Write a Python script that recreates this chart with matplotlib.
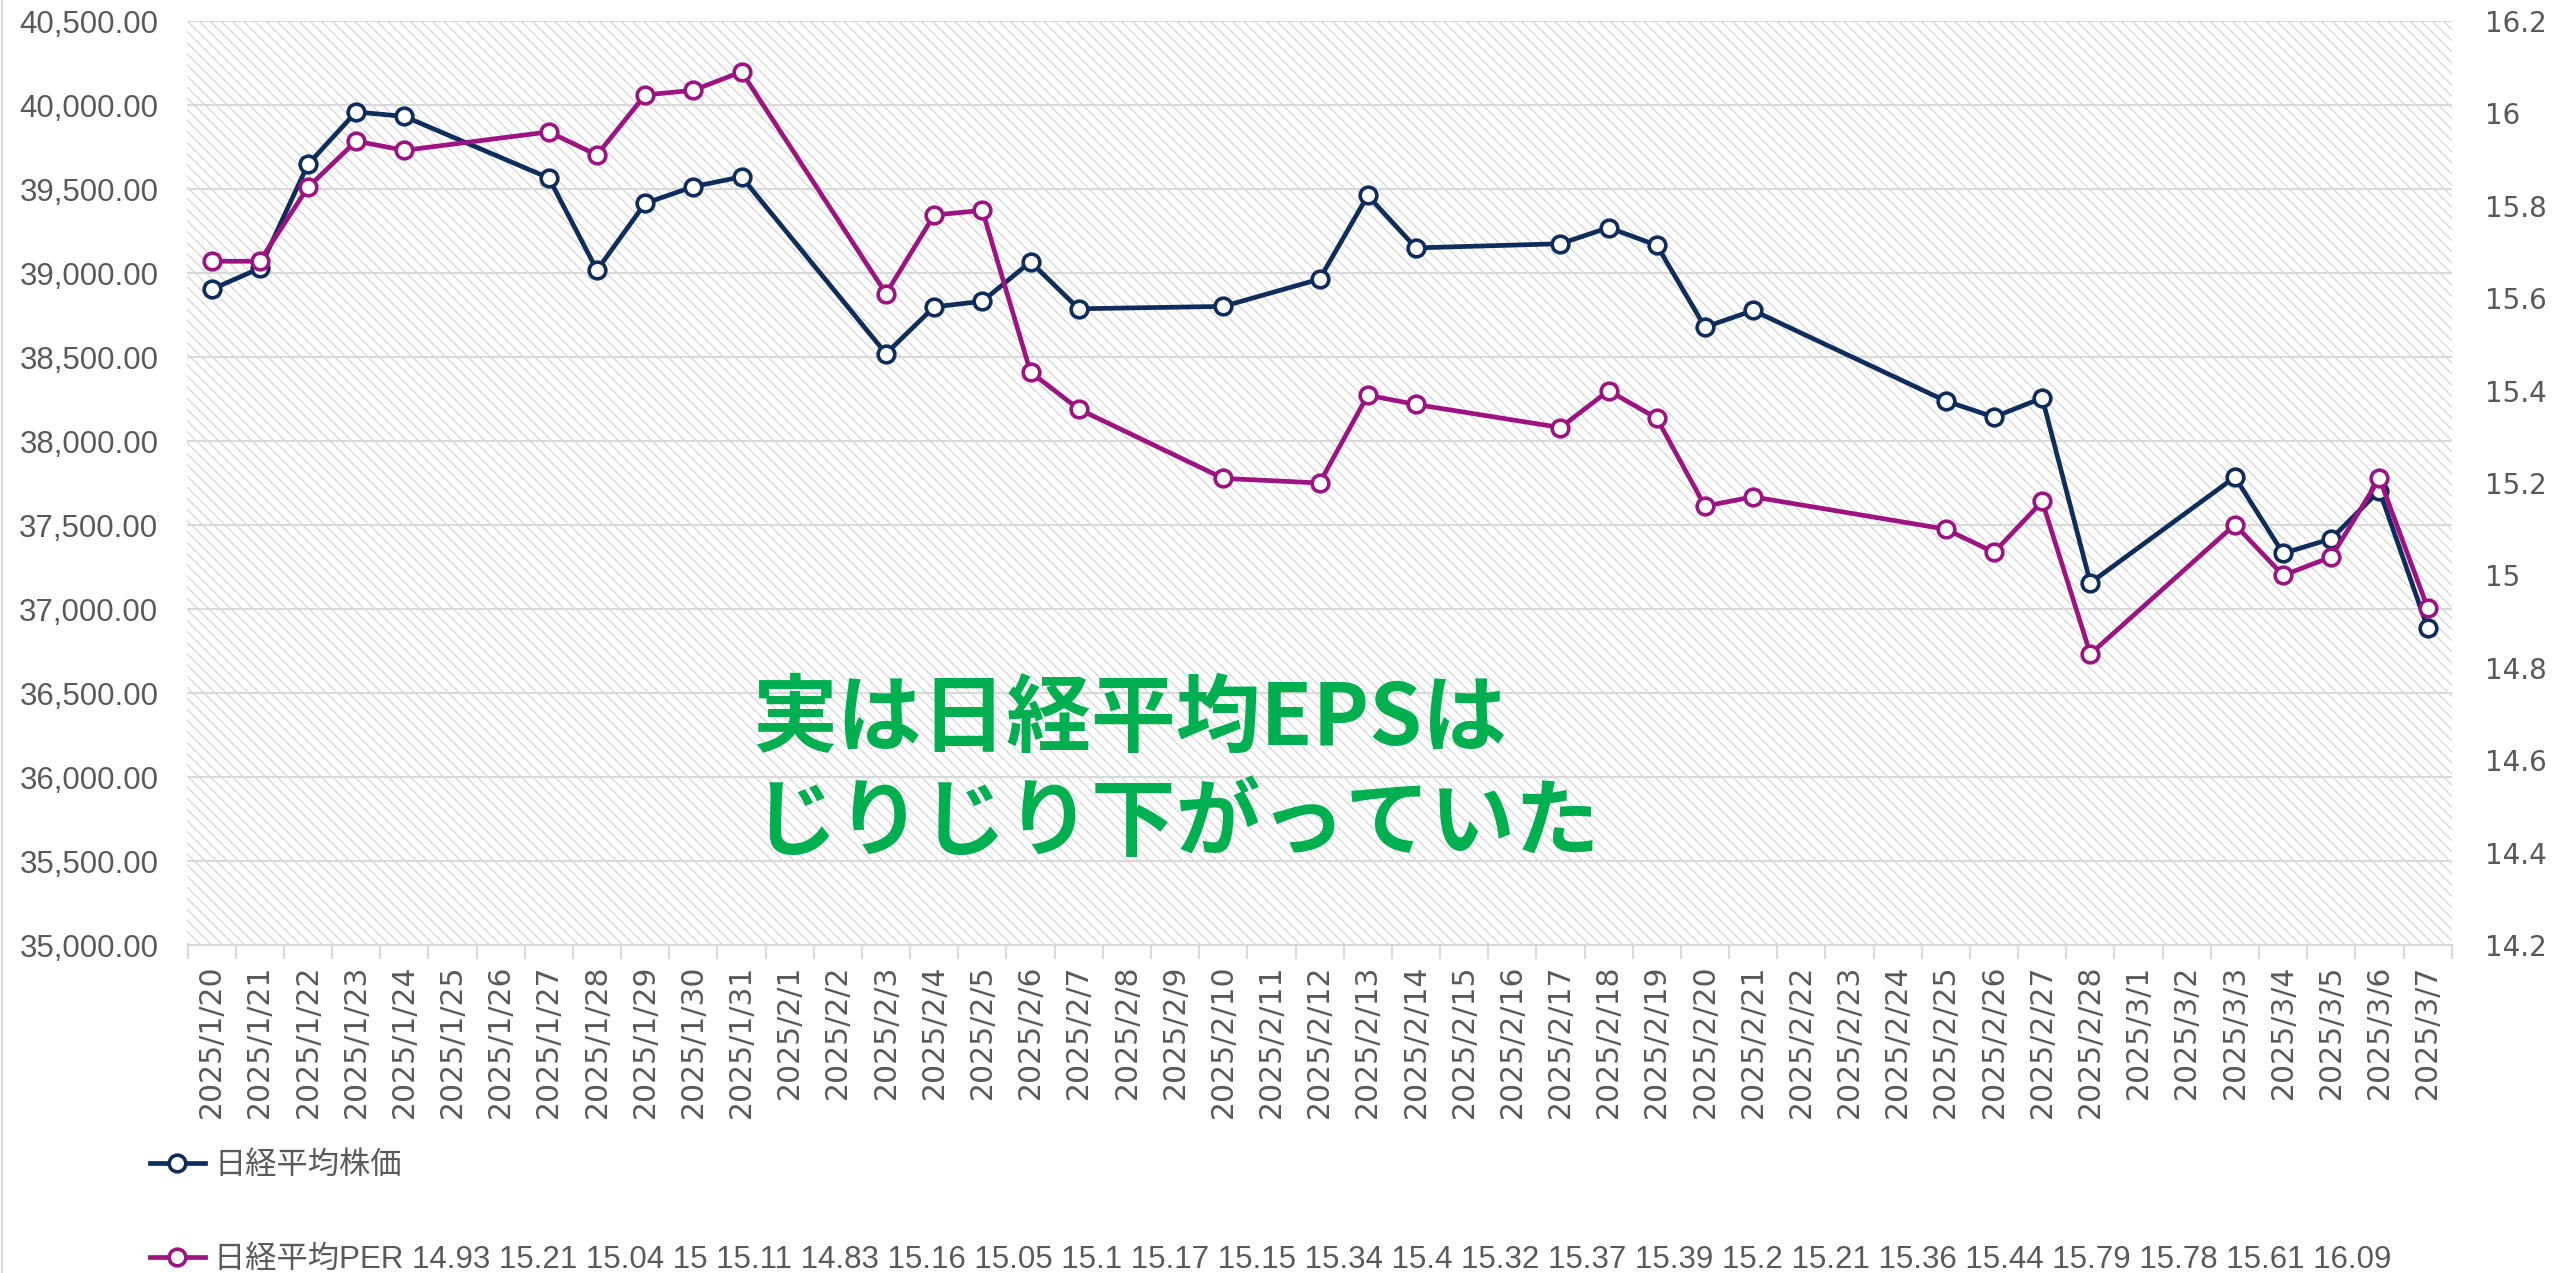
import matplotlib
matplotlib.use("Agg")
import matplotlib.pyplot as plt
import numpy as np
import pandas as pd
from matplotlib.patches import Rectangle
from matplotlib.lines import Line2D

plt.rcParams["hatch.linewidth"] = 0.8

# ---------------- data ----------------
trade_dates = ["2025-01-20", "2025-01-21", "2025-01-22", "2025-01-23", "2025-01-24",
               "2025-01-27", "2025-01-28", "2025-01-29", "2025-01-30", "2025-01-31",
               "2025-02-03", "2025-02-04", "2025-02-05", "2025-02-06", "2025-02-07",
               "2025-02-10", "2025-02-12", "2025-02-13", "2025-02-14",
               "2025-02-17", "2025-02-18", "2025-02-19", "2025-02-20", "2025-02-21",
               "2025-02-25", "2025-02-26", "2025-02-27", "2025-02-28",
               "2025-03-03", "2025-03-04", "2025-03-05", "2025-03-06", "2025-03-07"]
price = [38902.50, 39027.98, 39646.25, 39958.87, 39931.98,
         39565.80, 39016.87, 39414.78, 39513.97, 39572.49,
         38520.09, 38798.37, 38831.48, 39066.53, 38787.02,
         38801.17, 38963.70, 39461.47, 39149.43,
         39174.25, 39270.40, 39164.61, 38678.04, 38776.94,
         38237.79, 38142.37, 38256.17, 37155.50,
         37785.47, 37331.18, 37418.24, 37704.93, 36887.17]
per = [15.68, 15.68, 15.84, 15.94, 15.92,
       15.96, 15.91, 16.04, 16.05, 16.09,
       15.61, 15.78, 15.79, 15.44, 15.36,
       15.21, 15.20, 15.39, 15.37,
       15.32, 15.40, 15.34, 15.15, 15.17,
       15.10, 15.05, 15.16, 14.83,
       15.11, 15.00, 15.04, 15.21, 14.93]
axis_start = "2025-01-20"
axis_end = "2025-03-07"
price_ticks = [35000, 35500, 36000, 36500, 37000, 37500, 38000, 38500, 39000, 39500, 40000, 40500]
per_ticks = [14.2, 14.4, 14.6, 14.8, 15.0, 15.2, 15.4, 15.6, 15.8, 16.0, 16.2]
per_tick_labels = ["14.2", "14.4", "14.6", "14.8", "15", "15.2", "15.4", "15.6", "15.8", "16", "16.2"]
label_price = "日経平均株価"
label_per = ("日経平均PER 14.93 15.21 15.04 15 15.11 14.83 15.16 15.05 15.1 15.17 15.15 "
             "15.34 15.4 15.32 15.37 15.39 15.2 15.21 15.36 15.44 15.79 15.78 15.61 16.09")
note_line1 = "実は日経平均EPSは"
note_line2 = "じりじり下がっていた"

# ---------------- style ----------------
C_PRICE = "#0E2D5C"
C_PER = "#9E1382"
C_GRID = "#D9D9D9"
C_TEXT = "#595959"
C_NOTE = "#00B050"
W, H = 2554, 1273
LW, MS, MEW = 3.4, 12, 2.6

fig = plt.figure(figsize=(W / 100, H / 100), dpi=100)
fig.patch.set_facecolor("white")
l, r, t, b = 187.5, 2451.7, 21, 945
ax = fig.add_axes([l / W, 1 - b / H, (r - l) / W, (b - t) / H])

x = pd.to_datetime(trade_dates)
days = pd.date_range(axis_start, axis_end, freq="D")
half = pd.Timedelta(hours=12)

# hatched plot area
ax.add_patch(Rectangle((0, 0), 1, 1, transform=ax.transAxes, facecolor="white",
                       edgecolor="#D2D2D2", hatch="\\\\\\", linewidth=0, zorder=0))

ax.plot(x, price, color=C_PRICE, lw=LW, marker="o", ms=MS, mfc="white",
        mec=C_PRICE, mew=MEW, zorder=3, label=label_price)
ax.set_ylim(price_ticks[0], price_ticks[-1])
ax.set_yticks(price_ticks)
ax.set_yticklabels([f"{v:,.2f}" for v in price_ticks])
ax.set_xlim(days[0] - half, days[-1] + half)
ax.set_xticks(days)
ax.set_xticklabels([f"{d.year}/{d.month}/{d.day}" for d in days], rotation=90,
                   fontsize=21.5, color=C_TEXT, family="DejaVu Sans")
ax.set_xticks(list(days - half) + [days[-1] + half], minor=True)
ax.tick_params(axis="x", which="major", length=0, pad=14)
ax.tick_params(axis="x", which="minor", length=10, width=1.5, color=C_GRID)
ax.tick_params(axis="y", length=0, pad=21, labelsize=22.5, labelcolor=C_TEXT)
for lab in ax.get_yticklabels():
    lab.set_family(["Liberation Sans", "DejaVu Sans"])
ax.grid(axis="y", color=C_GRID, lw=1.5)
ax.set_axisbelow(True)
for s in ["top", "left", "right"]:
    ax.spines[s].set_visible(False)
ax.spines["bottom"].set_color(C_GRID)
ax.spines["bottom"].set_linewidth(1.5)

ax2 = ax.twinx()
ax2.plot(x, per, color=C_PER, lw=LW, marker="o", ms=MS, mfc="white",
         mec=C_PER, mew=MEW, zorder=3, label=label_per)
ax2.set_ylim(per_ticks[0], per_ticks[-1])
ax2.set_yticks(per_ticks)
ax2.set_yticklabels(per_tick_labels)
ax2.tick_params(axis="y", length=0, pad=24, labelsize=20, labelcolor=C_TEXT)
for s in ax2.spines.values():
    s.set_visible(False)

# annotation
fig.text(752 / W, 1 - 720 / H, note_line1, color=C_NOTE, fontsize=61, fontweight="bold",
         family=["Noto Sans CJK JP", "DejaVu Sans"], ha="left", va="center")
fig.text(752 / W, 1 - 824 / H, note_line2, color=C_NOTE, fontsize=61, fontweight="bold",
         family=["Noto Sans CJK JP", "DejaVu Sans"], ha="left", va="center")

# legend
handles = [Line2D([], [], color=C_PRICE, lw=LW, marker="o", ms=MS, mfc="white", mec=C_PRICE, mew=MEW),
           Line2D([], [], color=C_PER, lw=LW, marker="o", ms=MS, mfc="white", mec=C_PER, mew=MEW)]
fig.legend(handles, [label_price, label_per], loc="upper left",
           bbox_to_anchor=(150 / W, 1 - 1151 / H), bbox_transform=fig.transFigure,
           borderpad=0, borderaxespad=0, handlelength=1.75, handletextpad=0.3,
           labelspacing=2.05, frameon=False,
           prop={"family": ["Liberation Sans", "Noto Sans CJK JP"], "size": 22.5},
           labelcolor=C_TEXT)

# left border of chart area
fig.add_artist(Line2D([1.5 / W, 1.5 / W], [0, 1], color=C_GRID, lw=1.5, transform=fig.transFigure))

fig.savefig("out.png", dpi=100, facecolor="white")
